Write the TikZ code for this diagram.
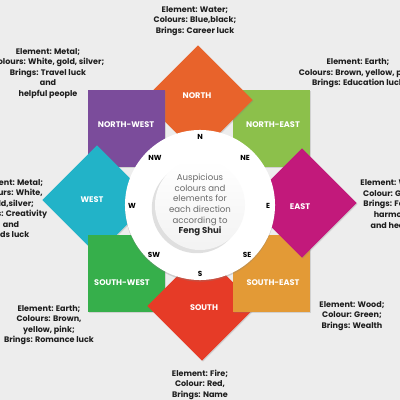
\documentclass[tikz,border=0pt]{standalone}
\usepackage{fontspec}
\setmainfont{Poppins}
\usetikzlibrary{shadows}

\definecolor{bggrey}{HTML}{EDEDED}
\definecolor{waterorange}{HTML}{E8632B}
\definecolor{eduagreen}{HTML}{8CC04B}
\definecolor{familymagenta}{HTML}{C2197B}
\definecolor{wealthamber}{HTML}{E39A36}
\definecolor{famered}{HTML}{E63B27}
\definecolor{romancegreen}{HTML}{36AF4B}
\definecolor{kidsteal}{HTML}{22B3C8}
\definecolor{travelpurple}{HTML}{7B4C9B}
\definecolor{infotext}{HTML}{1E1E1E}
\definecolor{hubtext}{HTML}{6A6A6A}

\begin{document}
\begin{tikzpicture}[x=0.025cm,y=-0.025cm]

		% Define styles
		\tikzstyle{tile} = [
		rectangle, minimum size=1.93cm, inner sep=0pt, draw=none,
		drop shadow={shadow xshift=0.25mm, shadow yshift=-0.25mm, opacity=0.25}]
		\tikzstyle{tiltedtile} = [tile, rotate=45]
		\tikzstyle{dirlabel} = [
		text=white, font=\bfseries\fontsize{5.8}{6.5}\selectfont]
		\tikzstyle{compass} = [
		text=black, font=\bfseries\fontsize{5.2}{6}\selectfont]
		\tikzstyle{info} = [
		align=center, text=infotext, inner sep=0pt,
		font=\bfseries\fontsize{5.7}{7.5}\selectfont]

		% Background
		\useasboundingbox (0,0) rectangle (400,400);
		\clip (0,0) rectangle (400,400);
		\fill[bggrey] (0,0) rectangle (400,400);

		% Tiles
		\node (northeast) [tile, fill=eduagreen] at (271.5,128.5) {};
		\node (north) [tiltedtile, fill=waterorange] at (198,100) {};
		\node (northwest) [tile, fill=travelpurple] at (126.5,128.5) {};
		\node (west) [tiltedtile, fill=kidsteal] at (97,200) {};
		\node (southwest) [tile, fill=romancegreen] at (126.5,273.5) {};
		\node (south) [tiltedtile, fill=famered] at (202,306) {};
		\node (southeast) [tile, fill=wealthamber] at (271.5,273.5) {};
		\node (east) [tiltedtile, fill=familymagenta] at (302,203) {};

		% Tile labels
		\node (northlbl) [dirlabel] at (197,96) {NORTH};
		\node (northeastlbl) [dirlabel] at (273,125) {NORTH-EAST};
		\node (eastlbl) [dirlabel] at (300,207) {EAST};
		\node (southeastlbl) [dirlabel] at (273,283) {SOUTH-EAST};
		\node (southlbl) [dirlabel] at (204,308) {SOUTH};
		\node (southwestlbl) [dirlabel] at (122,283) {SOUTH-WEST};
		\node (westlbl) [dirlabel] at (92,200) {WEST};
		\node (northwestlbl) [dirlabel] at (126,125) {NORTH-WEST};

		% Compass ring and hub
		\node (ring) [circle, fill=white, minimum size=3.75cm, inner sep=0pt,
		drop shadow={shadow xshift=0mm, shadow yshift=-0.4mm, opacity=0.3}]
		at (200,205) {};
		\node (hub) [circle, minimum size=2.25cm, inner sep=0pt,
		top color=white, bottom color=gray!10, text=hubtext, align=center,
		font=\fontsize{6.1}{7.6}\selectfont,
		drop shadow={shadow xshift=-0.8mm, shadow yshift=-0.8mm, opacity=0.25}]
		at (200,205) {Auspicious\\colours and\\elements for\\each direction\\according to\\{\bfseries\color{black!85}Feng Shui}};

		\node (cn) [compass] at (200,137) {N};
		\node (cne) [compass] at (245,158) {NE};
		\node (ce) [compass] at (268,206) {E};
		\node (cse) [compass] at (247,255) {SE};
		\node (cs) [compass] at (200,274) {S};
		\node (csw) [compass] at (154,255) {SW};
		\node (cw) [compass] at (132,206) {W};
		\node (cnw) [compass] at (155,158) {NW};

		% Element texts
		\node (waterinfo) [info] at (195,21) {
			Element: Water;\\
			Colours: Blue,black;\\
			Brings: Career luck
		};
		\node (earthinfo) [info] at (358,73.5) {
			Element: Earth;\\
			Colours: Brown, yellow, pink;\\
			Brings: Education luck
		};
		\node (familyinfo) [info] at (393,204) {
			Element: Wood;\\
			Colour: Green;\\
			Brings: Family\\
			harmony\\
			and health
		};
		\node (wealthinfo) [info] at (352,316) {
			Element: Wood;\\
			Colour: Green;\\
			Brings: Wealth
		};
		\node (fireinfo) [info] at (200,389) {
			Element: Fire;\\
			Colour: Red,\\
			Brings: Name\\
			and fame
		};
		\node (romanceinfo) [info] at (49,325) {
			Element: Earth;\\
			Colours: Brown,\\
			yellow, pink;\\
			Brings: Romance luck
		};
		\node (kidsinfo) [info] at (11,208.5) {
			Element: Metal;\\
			Colours: White,\\
			gold,silver;\\
			Brings: Creativity\\
			and\\
			kids luck
		};
		\node (travelinfo) [info] at (48,73.5) {
			Element: Metal;\\
			Colours: White, gold, silver;\\
			Brings: Travel luck\\
			and\\
			helpful people
		};
	\end{tikzpicture}
\end{document}
